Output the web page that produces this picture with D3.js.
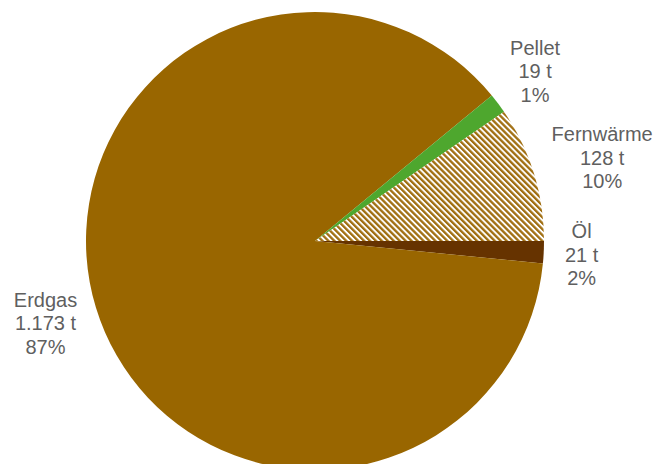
<!DOCTYPE html>
<html>
<head>
<meta charset="utf-8">
<script src="https://cdn.jsdelivr.net/npm/d3@7"></script>
<style>
  html, body { margin: 0; padding: 0; background: #ffffff; }
  svg { display: block; }
</style>
</head>
<body>
<svg id="chart" width="655" height="464"></svg>
<script>
// ---- data (order as drawn, clockwise starting at 3 o'clock) ----
const categories = ["Öl", "Erdgas", "Pellet", "Fernwärme"];
const values = [21, 1173, 19, 128];
const valueLabels = ["21 t", "1.173 t", "19 t", "128 t"];
const percentLabels = ["2%", "87%", "1%", "10%"];
const colors = ["#663300", "#996600", "#4EA72E", "url(#hatch)"];

const width = 655, height = 464;
const cx = 315, cy = 241, radius = 229;

const svg = d3.select("#chart");

// hatch pattern for Fernwärme
const defs = svg.append("defs");
const pat = defs.append("pattern")
  .attr("id", "hatch")
  .attr("patternUnits", "userSpaceOnUse")
  .attr("width", 4.2)
  .attr("height", 4.2)
  .attr("patternTransform", "rotate(-45)");
pat.append("rect").attr("width", 4.2).attr("height", 4.2).attr("fill", "#ffffff");
pat.append("rect").attr("width", 2.3).attr("height", 4.2).attr("fill", "#A06E10");

const pie = d3.pie()
  .value(d => d)
  .sort(null)
  .startAngle(Math.PI / 2)
  .endAngle(Math.PI / 2 + 2 * Math.PI);

const arcs = pie(values);
const arc = d3.arc().innerRadius(0).outerRadius(radius);

const g = svg.append("g").attr("transform", `translate(${cx},${cy})`);

g.selectAll("path.slice")
  .data(arcs)
  .enter().append("path")
  .attr("class", "slice")
  .attr("d", arc)
  .attr("fill", (d, i) => colors[i]);

// labels: three lines, placed outside the pie along mid angle
const fontSize = 20, lineH = 23.5, gapX = 21, gapY = 19;
arcs.forEach((d, i) => {
  const a = (d.startAngle + d.endAngle) / 2;
  const s = Math.sin(a), c = -Math.cos(a);
  const t = g.append("text")
    .attr("font-family", "Liberation Sans, Arial, sans-serif")
    .attr("font-size", fontSize)
    .attr("fill", "#5f5f5f")
    .attr("text-anchor", "middle");
  const lines = [categories[i], valueLabels[i], percentLabels[i]];
  lines.forEach((l, k) => {
    t.append("tspan").attr("x", 0).attr("y", (k - 1) * lineH + fontSize * 0.35).text(l);
  });
  const bb = t.node().getBBox();
  const w = bb.width, h = bb.height;
  const px = (radius + gapX) * s + (w / 2) * s;
  const py = (radius + gapY) * c + (h / 2) * c;
  t.attr("transform", `translate(${px},${py})`);
});
</script>
</body>
</html>
